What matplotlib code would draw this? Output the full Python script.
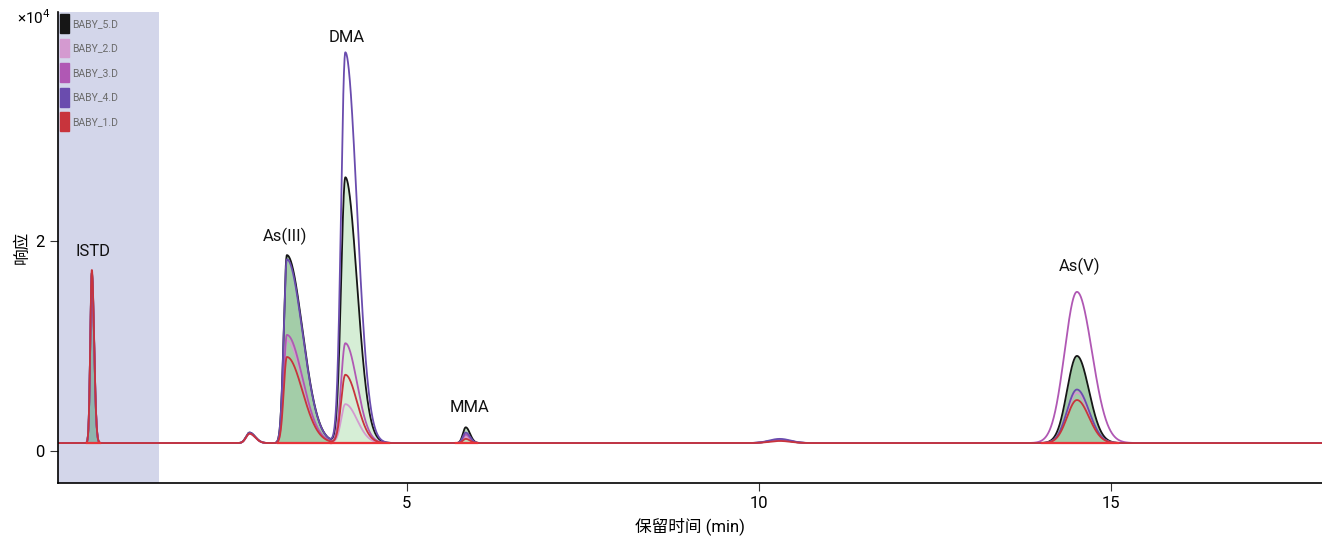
import numpy as np
import matplotlib
matplotlib.use("Agg")
import matplotlib.pyplot as plt
from matplotlib.patches import Patch

plt.rcParams['font.family'] = ['Roboto', 'Noto Sans CJK SC', 'DejaVu Sans']

# peak table (time in min, heights in 1e4 counts above baseline)
peak_names = ['ISTD', 'bump1', 'As(III)', 'DMA', 'MMA', 'bump2', 'As(V)']
peak_rt = [0.53, 2.77, 3.30, 4.13, 5.84, 10.3, 14.52]
sigma_left = [0.022, 0.05, 0.045, 0.06, 0.04, 0.15, 0.14]
sigma_right = [0.032, 0.08, 0.22, 0.165, 0.06, 0.15, 0.17]

samples = ['BABY_5.D', 'BABY_2.D', 'BABY_3.D', 'BABY_4.D', 'BABY_1.D']
colors = ['#161616', '#d49ad0', '#b058b4', '#6a4cae', '#c8343c']
h_baby5 = [1.62, 0.10, 1.79, 2.53, 0.15, 0.03, 0.83]
h_baby2 = [1.60, 0.09, 0.98, 0.37, 0.06, 0.03, 0.48]
h_baby3 = [1.60, 0.09, 1.03, 0.95, 0.08, 0.03, 1.44]
h_baby4 = [1.62, 0.10, 1.75, 3.72, 0.10, 0.04, 0.51]
h_baby1 = [1.65, 0.09, 0.82, 0.65, 0.04, 0.02, 0.41]
heights = [h_baby5, h_baby2, h_baby3, h_baby4, h_baby1]
# BABY_3 As(V) peak is visibly broader
width_scale = [1.0, 1.0, 1.25, 1.0, 1.0]
baseline = 0.075

# integration windows (start, end) and fill colours
fill_ranges = [(0.46, 0.64), (3.17, 3.92), (3.92, 4.75), (5.70, 6.00), (14.02, 15.10)]
fill_colors = ['#8fb5ae', '#a3cda8', '#d6eed6', '#bfe0c0', '#a3cda8']

labels = ['ISTD', 'As(III)', 'DMA', 'MMA', 'As(V)']
label_x = [0.54, 3.27, 4.15, 5.89, 14.56]
label_y = [1.90, 2.04, 3.94, 0.41, 1.76]

t = np.linspace(0.05, 18, 6000)


def trace(h, ws):
    y = np.full_like(t, baseline)
    for i, rt in enumerate(peak_rt):
        s = ws if peak_names[i] == 'As(V)' else 1.0
        sl = sigma_left[i] * s
        sr = sigma_right[i] * s
        sig = np.where(t < rt, sl, sr)
        y += h[i] * np.exp(-0.5 * ((t - rt) / sig) ** 2)
    return y


fig = plt.figure(figsize=(13.22, 5.37), dpi=100)
ax = fig.add_axes([0.0439, 0.1006, 0.9561, 0.877])

ax.axvspan(0.05, 1.48, color='#d3d6ea', zorder=0, lw=0)

curves = [trace(h, w) for h, w in zip(heights, width_scale)]

for (a, b), fc in zip(fill_ranges, fill_colors):
    m = (t >= a) & (t <= b)
    ax.fill_between(t[m], baseline, curves[0][m], color=fc, lw=0, zorder=1)

for y, c in zip(curves, colors):
    ax.plot(t, y, color=c, lw=1.3, zorder=2)

for a, b in fill_ranges:
    ax.plot([a, b], [baseline, baseline], color='#e8343a', lw=1.6, zorder=3)

for s, x, y in zip(labels, label_x, label_y):
    ax.text(x, y, s, ha='center', va='center', fontsize=12, color='#111111')

handles = [Patch(facecolor=c, edgecolor=c) for c in colors]
leg = ax.legend(handles, samples, loc='upper left', bbox_to_anchor=(0.0, 1.0),
                frameon=False, fontsize=7.5, handlelength=0.85, handleheight=2.4,
                labelspacing=0.55, handletextpad=0.3, borderpad=0.1, borderaxespad=0.1)
for txt in leg.get_texts():
    txt.set_color('#6a6a6a')

ax.set_xlim(0.05, 18)
ax.set_ylim(-0.305, 4.18)
ax.set_xticks([5, 10, 15])
ax.set_yticks([0, 2])
ax.tick_params(direction='out', length=6, labelsize=12, color='#333333')
for side in ['top', 'right']:
    ax.spines[side].set_visible(False)
ax.spines['left'].set_linewidth(1.2)
ax.spines['bottom'].set_linewidth(1.2)

ax.set_xlabel('保留时间 (min)', fontsize=12, labelpad=4)
ax.set_ylabel('响应', fontsize=12, labelpad=4)
fig.text(0.013, 0.968, '×10$^4$', fontsize=11, va='center')

fig.savefig('out.png', dpi=100)
